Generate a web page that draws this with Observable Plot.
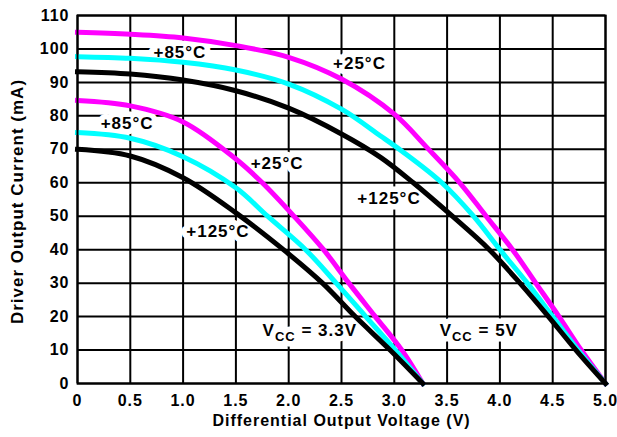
<!DOCTYPE html>
<html>
<head>
<meta charset="utf-8">
<script src="https://cdn.jsdelivr.net/npm/d3@7"></script>
<script src="https://cdn.jsdelivr.net/npm/@observablehq/plot@0.6"></script>
<style>
  html, body { margin: 0; padding: 0; background: #fff; }
  #chart { width: 617px; height: 437px; }
</style>
</head>
<body>
<div id="chart"></div>
<script>
// Axis ticks
const xTicks = [0, 0.5, 1, 1.5, 2, 2.5, 3, 3.5, 4, 4.5, 5];
const xTickLabels = ["0", "0.5", "1.0", "1.5", "2.0", "2.5", "3.0", "3.5", "4.0", "4.5", "5.0"];
const yTicks = [0, 10, 20, 30, 40, 50, 60, 70, 80, 90, 100, 110];

// VCC = 5V curves
const v5_25C_x = [0, 0.5, 1.0, 1.5, 2.0, 2.5, 3.0, 3.31, 3.62, 3.87, 4.12, 4.34, 4.56, 4.77, 5.0];
const v5_25C_y = [105, 104.4, 103.3, 101, 97.5, 91, 80.5, 70.5, 60, 50, 40, 30, 20, 10, 0];
const v5_85C_x = [0, 0.5, 1.0, 1.5, 2.0, 2.5, 2.87, 3.07, 3.45, 3.75, 4.0, 4.26, 4.5, 4.74, 5.0];
const v5_85C_y = [97.7, 97.2, 96, 93.7, 89.5, 82, 74, 69.5, 60, 50, 40, 30, 20, 10, 0];
const v5_125C_x = [0, 0.5, 1.0, 1.5, 2.0, 2.5, 2.87, 3.18, 3.55, 3.9, 4.19, 4.46, 4.72, 5.0];
const v5_125C_y = [93.2, 92.5, 90.7, 87.5, 82.3, 74.6, 67.6, 60, 50, 40, 30, 20, 10, 0];

// VCC = 3.3V curves
const v33_25C_x = [0, 0.5, 1.0, 1.5, 1.75, 2.05, 2.33, 2.57, 2.82, 3.07, 3.27];
const v33_25C_y = [84.6, 83, 78.2, 67.1, 60, 50, 40, 30, 20, 10, 0];
const v33_85C_x = [0, 0.5, 1.0, 1.5, 1.8, 2.16, 2.45, 2.73, 3.01, 3.27];
const v33_85C_y = [75, 73.3, 67.8, 58.5, 50, 40, 30, 20, 10, 0];
const v33_125C_x = [0, 0.5, 1.0, 1.5, 1.95, 2.32, 2.63, 2.96, 3.27];
const v33_125C_y = [70, 68, 61.5, 51, 40, 30, 20, 10, 0];

// Series colors
const colorMagenta = "#ff00ff";
const colorCyan = "#00ffff";
const colorBlack = "#000000";

// Annotation labels
const labelText = ["+85°C", "+25°C", "+125°C", "+85°C", "+25°C", "+125°C", "VCC = 3.3V", "VCC = 5V"];
const labelX = [0.97, 2.67, 2.95, 0.47, 1.89, 1.33, 2.2, 3.8];
const labelY = [98.9, 95.6, 55.2, 77.6, 65.7, 45.3, 15.8, 15.8];

function rows(xs, ys, key) {
  return xs.map((x, i) => ({x, y: ys[i], key}));
}
const seriesMagenta = [rows(v5_25C_x, v5_25C_y, "5V 25"), rows(v33_25C_x, v33_25C_y, "3.3V 25")];
const seriesCyan = [rows(v5_85C_x, v5_85C_y, "5V 85"), rows(v33_85C_x, v33_85C_y, "3.3V 85")];
const seriesBlack = [rows(v5_125C_x, v5_125C_y, "5V 125"), rows(v33_125C_x, v33_125C_y, "3.3V 125")];
const labels = labelText.map((t, i) => ({t, x: labelX[i], y: labelY[i]}));

const lineOpts = (stroke) => ({x: "x", y: "y", stroke, strokeWidth: 5, curve: "catmull-rom", strokeLinecap: "square"});

const chart = Plot.plot({
  width: 617,
  height: 437,
  marginLeft: 77,
  marginRight: 12,
  marginTop: 15,
  marginBottom: 54,
  style: {
    fontFamily: "'Liberation Sans', Arial, sans-serif",
    fontSize: "16px",
    fontWeight: "bold",
    background: "white",
    color: "black",
    letterSpacing: "1px",
    overflow: "visible"
  },
  x: {domain: [0, 5]},
  y: {domain: [0, 110]},
  marks: [
    Plot.gridX(xTicks, {stroke: "black", strokeOpacity: 1, strokeWidth: 2}),
    Plot.gridY(yTicks, {stroke: "black", strokeOpacity: 1, strokeWidth: 2}),
    Plot.axisX(xTicks, {tickSize: 0, tickPadding: 11, tickFormat: (d) => xTickLabels[xTicks.indexOf(d)], label: null, fontSize: 16}),
    Plot.axisY(yTicks, {tickSize: 0, tickPadding: 8, label: null, fontSize: 16}),
    Plot.text(["Differential Output Voltage (V)"], {frameAnchor: "bottom", dy: 42, fontSize: 16}),
    Plot.text(["Driver Output Current (mA)"], {frameAnchor: "left", textAnchor: "middle", rotate: -90, dx: -60, dy: 2, fontSize: 17}),
    Plot.text(labels, {x: "x", y: "y", text: "t", fontSize: 17, stroke: "white", strokeWidth: 11, fill: "black"}),
    ...seriesMagenta.map(s => Plot.line(s, lineOpts(colorMagenta))),
    ...seriesCyan.map(s => Plot.line(s, lineOpts(colorCyan))),
    ...seriesBlack.map(s => Plot.line(s, lineOpts(colorBlack))),
    Plot.frame({stroke: "black", strokeWidth: 2})
  ]
});

// Render VCC with a subscript "CC"
d3.select(chart).selectAll("text").each(function() {
  const el = d3.select(this);
  const txt = this.textContent;
  if (txt.startsWith("VCC")) {
    const rest = txt.slice(3);
    el.text(null);
    el.append("tspan").text("V");
    el.append("tspan").attr("font-size", 13).attr("dy", 4.5).text("CC");
    el.append("tspan").attr("font-size", 17).attr("dy", -4.5).text(rest);
  }
});

document.getElementById("chart").appendChild(chart);
</script>
</body>
</html>
